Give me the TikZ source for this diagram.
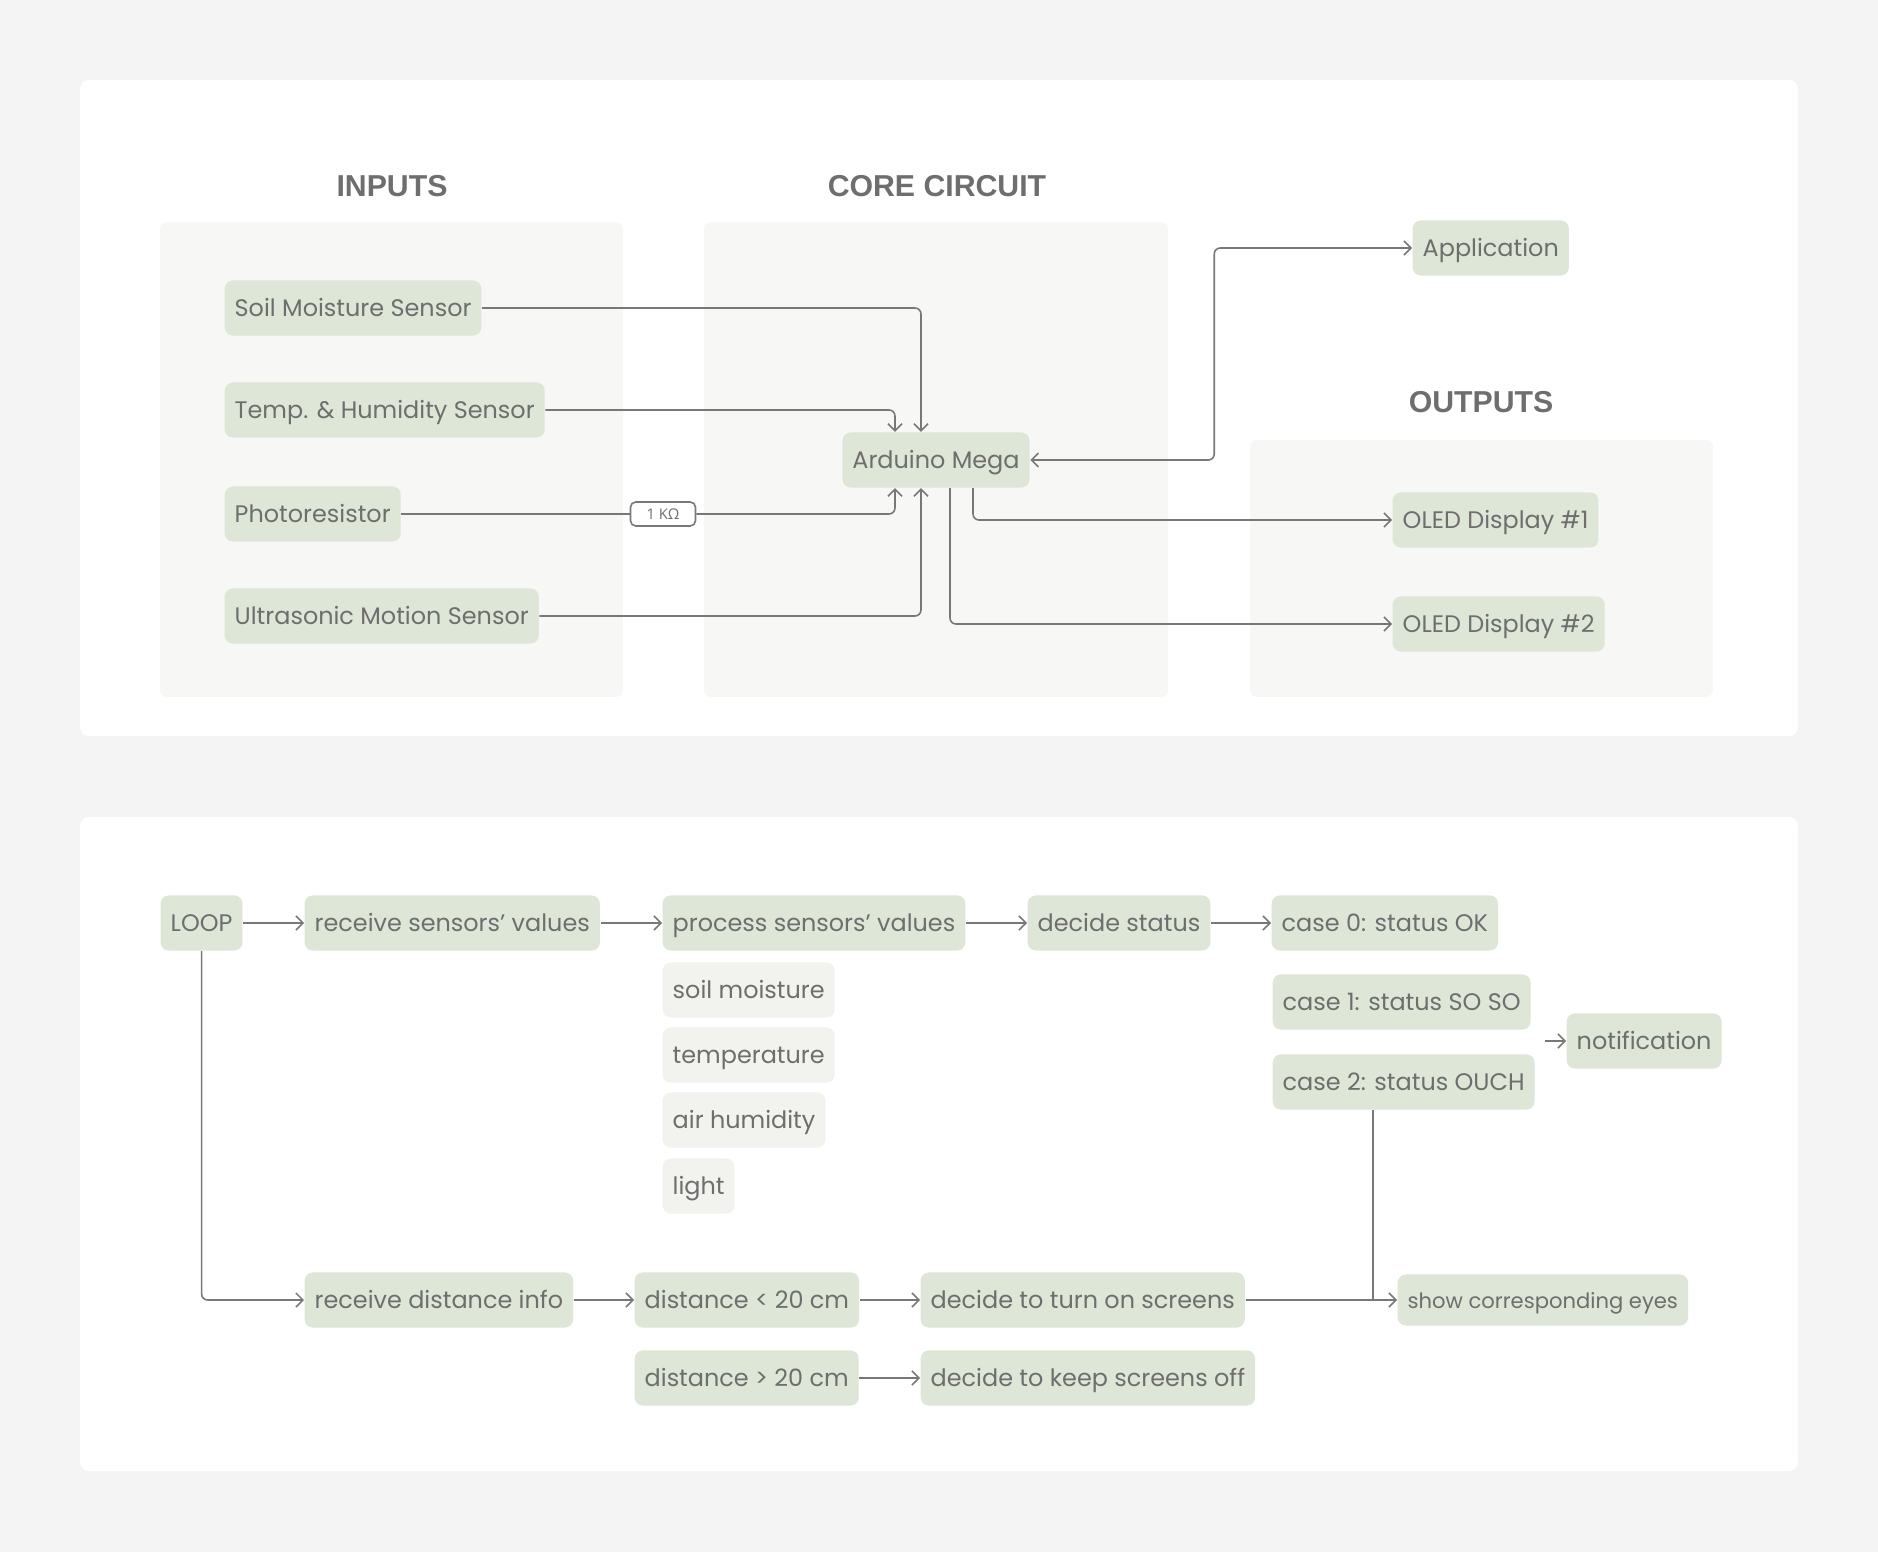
\documentclass[tikz,border=0pt]{standalone}
\usepackage{fontspec}
\setmainfont{Poppins}
\newfontfamily\hdrfont{Liberation Sans}
\newfontfamily\resfont{Open Sans}
\usetikzlibrary{positioning}
\usetikzlibrary{arrows.meta}
\definecolor{bgcol}{RGB}{244,244,244}
\definecolor{grpcol}{RGB}{247,248,246}
\definecolor{boxcol}{RGB}{222,230,215}
\definecolor{lboxcol}{RGB}{242,243,239}
\definecolor{txtcol}{RGB}{110,110,110}
\definecolor{linecol}{RGB}{120,120,120}
\tikzset{
    boxn/.style = {rounded corners=2.3pt, fill=boxcol, inner xsep=0.1cm, minimum height=0.55cm, text height=5.6pt, text depth=0.6pt, text=txtcol, font=\fontsize{6.8}{8}\selectfont},
    boxl/.style = {boxn, fill=lboxcol},
    boxs/.style = {boxn, minimum height=0.51cm, text height=5pt, text depth=0.4pt, font=\fontsize{6}{7}\selectfont},
    resbox/.style = {rounded corners=1.5pt, draw=linecol, line width=0.45pt, fill=white, text=txtcol, minimum width=0.65cm, minimum height=0.24cm, inner sep=0pt, font=\resfont\fontsize{4.2}{5}\selectfont},
    hdr/.style = {text=txtcol, font=\hdrfont\bfseries\fontsize{8.6}{10}\selectfont},
    panel/.style = {fill=white, rounded corners=2.5pt},
    grp/.style = {fill=grpcol, rounded corners=2pt},
    edgen/.style = {-, line width=0.45pt, linecol, rounded corners=1.7pt},
    edgea/.style = {edgen, -{Straight Barb[length=2pt,width=4pt]}},
    edgeb/.style = {edgen, {Straight Barb[length=2pt,width=4pt]}-{Straight Barb[length=2pt,width=4pt]}}
}
\begin{document}
\begin{tikzpicture}[x=0.01cm,y=-0.01cm]
\fill[bgcol] (0,0) rectangle (1878,1552);
\useasboundingbox (0,0) rectangle (1878,1552);
% panels
\fill[panel] (80,80) rectangle (1798,736);
\fill[panel] (80,817) rectangle (1798,1471);
\fill[grp] (160,222) rectangle (623,697);
\fill[grp] (704,222) rectangle (1168,697);
\fill[grp] (1250,440) rectangle (1713,697);
\node[hdr] at (392,186) (hin) {INPUTS};
\node[hdr] at (937,186) (hcore) {CORE CIRCUIT};
\node[hdr] at (1481,402) (hout) {OUTPUTS};
%
\node[boxn, anchor=west] at (224,308) (soil) {Soil Moisture Sensor};
\node[boxn, anchor=west] at (224,410) (temp) {Temp. \& Humidity Sensor};
\node[boxn, anchor=west] at (224,514) (photo) {Photoresistor};
\node[boxn, anchor=west] at (224,616) (ultra) {Ultrasonic Motion Sensor};
\node[boxn] at (936,460) (mega) {Arduino Mega};
\node[boxn, anchor=west] at (1412,248) (app) {Application};
\node[boxn, anchor=west] at (1392,520) (oled1) {OLED Display \#1};
\node[boxn, anchor=west] at (1392,624) (oled2) {OLED Display \#2};
\node[resbox] at (663,514) (res) {1 KΩ};
%
\draw[edgea] (soil.east) -| ([xshift=-0.15cm]mega.north);
\draw[edgea] (temp.east) -| ([xshift=-0.41cm]mega.north);
\draw[edgen] (photo.east) -- (res.west);
\draw[edgea] (res.east) -| ([xshift=-0.41cm]mega.south);
\draw[edgea] (ultra.east) -| ([xshift=-0.15cm]mega.south);
\draw[edgeb] (mega.east) -- ++(184,0) |- (app.west);
\draw[edgea] ([xshift=0.37cm]mega.south) |- (oled1.west);
\draw[edgea] ([xshift=0.14cm]mega.south) |- (oled2.west);
%
\node[boxn, anchor=west] at (160,923) (loop) {LOOP};
\node[boxn, anchor=west] at (304,923) (recvs) {receive sensors’ values};
\node[boxn, anchor=west] at (662,923) (procs) {process sensors’ values};
\node[boxn, anchor=west] at (1027,923) (status) {decide status};
\node[boxn, anchor=west] at (1271,923) (case0) {case 0: status OK};
\node[boxl, anchor=west] at (662,990) (soilm) {soil moisture};
\node[boxl, anchor=west] at (662,1055) (tempr) {temperature};
\node[boxl, anchor=west] at (662,1120) (airh) {air humidity};
\node[boxl, anchor=west] at (662,1186) (light) {light};
\node[boxn, anchor=west] at (1272,1002) (case1) {case 1: status SO SO};
\node[boxn, anchor=west] at (1272,1082) (case2) {case 2: status OUCH};
\node[boxn, anchor=west] at (1566,1041) (notif) {notification};
\node[boxn, anchor=west] at (304,1300) (recvd) {receive distance info};
\node[boxn, anchor=west] at (634,1300) (near) {distance < 20 cm};
\node[boxn, anchor=west] at (920,1300) (turnon) {decide to turn on screens};
\node[boxs, anchor=west] at (1397,1300) (eyes) {show corresponding eyes};
\node[boxn, anchor=west] at (634,1378) (far) {distance > 20 cm};
\node[boxn, anchor=west] at (920,1378) (keepoff) {decide to keep screens off};
\coordinate (notein) at (1545,1041);
\coordinate (join) at (1373,1300);
%
\draw[edgea] (loop) -- (recvs);
\draw[edgea] (recvs) -- (procs);
\draw[edgea] (procs) -- (status);
\draw[edgea] (status) -- (case0);
\draw[edgea] (loop.south) |- (recvd.west);
\draw[edgea] (recvd) -- (near);
\draw[edgea] (near) -- (turnon);
\draw[edgea] (turnon.east) -- (eyes.west);
\draw[edgea] (far) -- (keepoff);
\draw[edgen] (case2.south -| join) -- (join);
\draw[edgea] (notein) -- (notif.west);
\end{tikzpicture}
\end{document}
